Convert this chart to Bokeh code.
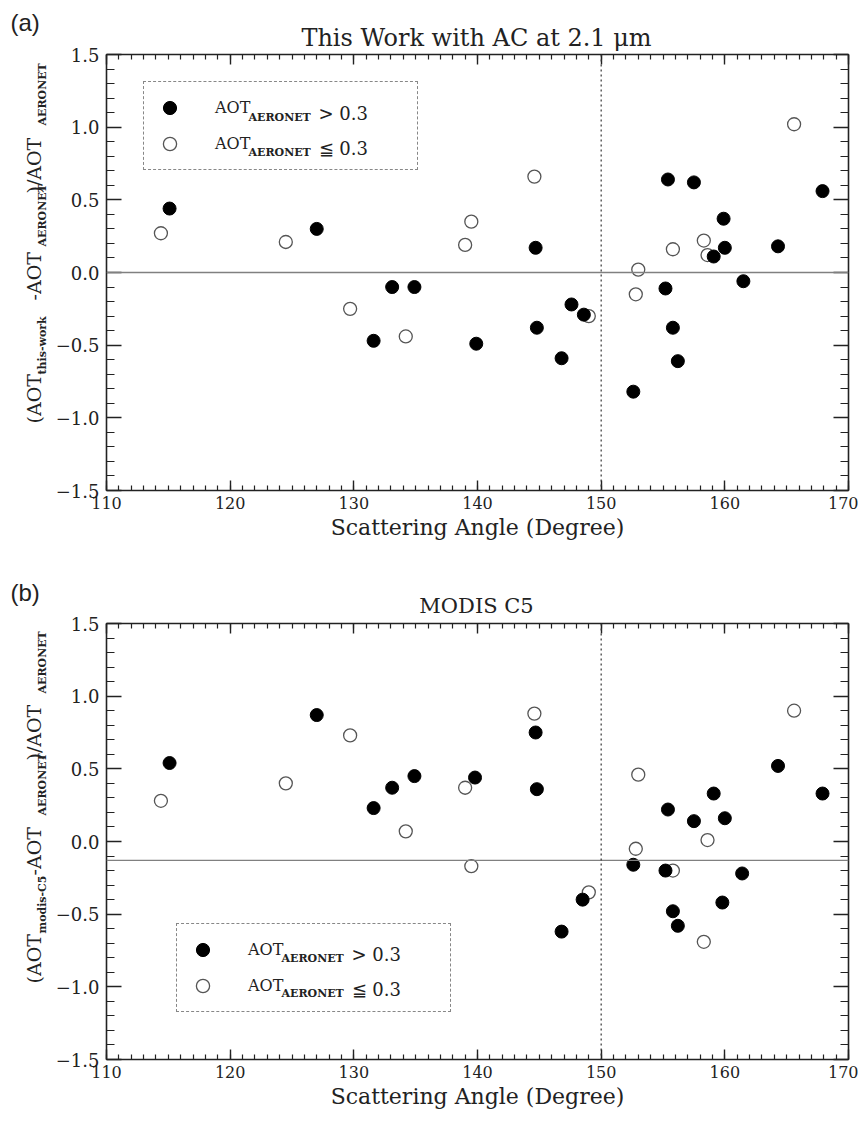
import numpy as np
from bokeh.plotting import figure
from bokeh.models import (Span, Label, Legend, LegendItem, LinearAxis,
                          SingleIntervalTicker, CustomJSTickFormatter, Range1d)
from bokeh.layouts import column, row
from bokeh.embed import file_html
from bokeh.resources import INLINE

# ---------------- data ----------------
top_filled_x = [115.1, 127.0, 131.6, 133.1, 134.9, 139.9, 144.7, 144.8, 146.8, 147.6, 148.6, 152.6,
                155.2, 155.4, 155.8, 156.2, 157.5, 159.1, 159.9, 160.0, 161.5, 164.3, 167.9]
top_filled_y = [0.44, 0.30, -0.47, -0.10, -0.10, -0.49, 0.17, -0.38, -0.59, -0.22, -0.29, -0.82,
                -0.11, 0.64, -0.38, -0.61, 0.62, 0.11, 0.37, 0.17, -0.06, 0.18, 0.56]
top_open_x = [114.4, 124.5, 129.7, 134.2, 139.0, 139.5, 144.6, 149.0, 152.8, 153.0, 155.8, 158.3, 158.6, 165.6]
top_open_y = [0.27, 0.21, -0.25, -0.44, 0.19, 0.35, 0.66, -0.30, -0.15, 0.02, 0.16, 0.22, 0.12, 1.02]

bot_filled_x = [115.1, 127.0, 131.6, 133.1, 134.9, 139.8, 144.7, 144.8, 146.8, 148.5, 152.6, 155.2,
                155.4, 155.8, 156.2, 157.5, 159.1, 159.8, 160.0, 161.4, 164.3, 167.9]
bot_filled_y = [0.54, 0.87, 0.23, 0.37, 0.45, 0.44, 0.75, 0.36, -0.62, -0.40, -0.16, -0.20,
                0.22, -0.48, -0.58, 0.14, 0.33, -0.42, 0.16, -0.22, 0.52, 0.33]
bot_open_x = [114.4, 124.5, 129.7, 134.2, 139.0, 139.5, 144.6, 149.0, 152.8, 153.0, 155.8, 158.3, 158.6, 165.6]
bot_open_y = [0.28, 0.40, 0.73, 0.07, 0.37, -0.17, 0.88, -0.35, -0.05, 0.46, -0.20, -0.69, 0.01, 0.90]

top_ref_line = 0.0
bot_ref_line = -0.13
angle_mark = 150
x_range = (110, 170)
y_range = (-1.5, 1.5)

titles = ["This Work with AC at 2.1 \u03bcm", "MODIS C5"]
panel_tags = ["(a)", "(b)"]
x_label = "Scattering Angle (Degree)"
legend_main = "AOT"
legend_sub = "AERONET"
legend_hi = "> 0.3"
legend_lo = "\u2266 0.3"

SERIF = "DejaVu Serif"
INK = "#222222"

fmt_y = CustomJSTickFormatter(code="return tick.toFixed(1).replace('-', '\u2212');")
fmt_x = CustomJSTickFormatter(code="return tick.toFixed(0);")
fmt_none = CustomJSTickFormatter(code="return '';")


def no_align(f):
    if "frame_align" in f.properties():
        f.frame_align = False


def style_axis(ax, is_x, labels=True):
    ax.axis_line_color = INK
    ax.axis_line_width = 1.6
    ax.major_tick_line_color = INK
    ax.minor_tick_line_color = INK
    ax.major_tick_line_width = 1.4
    ax.minor_tick_line_width = 1.2
    ax.major_tick_out = 0
    ax.minor_tick_out = 0
    if is_x:
        ax.major_tick_in = 10
        ax.minor_tick_in = 5
    else:
        ax.major_tick_in = 15
        ax.minor_tick_in = 8
    ax.major_label_text_font = SERIF
    ax.major_label_text_color = INK
    if not labels:
        ax.formatter = fmt_none
        ax.major_label_standoff = 0
        ax.major_label_text_font_size = "1px"


def make_main(fx, fy, ox, oy, ref, height, top_border, bottom_border, legend_loc,
              legend_text_pos, title, title_size, title_y):
    p = figure(width=806, height=height, output_backend="svg", toolbar_location=None,
               x_range=Range1d(*x_range), y_range=Range1d(*y_range),
               min_border_left=53, min_border_right=10, min_border_top=top_border,
               min_border_bottom=bottom_border,
               x_axis_type=None, y_axis_type=None)
    p.grid.visible = False
    p.outline_line_color = None
    p.background_fill_color = "white"
    p.border_fill_color = "white"
    no_align(p)

    xt = SingleIntervalTicker(interval=10, num_minor_ticks=10)
    yt = SingleIntervalTicker(interval=0.5, num_minor_ticks=5)

    xb = LinearAxis(ticker=xt, formatter=fmt_x, axis_label=x_label)
    style_axis(xb, True)
    xb.major_label_text_font_size = "16px"
    xb.major_label_standoff = 6
    xb.axis_label_text_font = SERIF
    xb.axis_label_text_font_style = "normal"
    xb.axis_label_text_font_size = "22px"
    xb.axis_label_text_color = INK
    xb.axis_label_standoff = 3
    p.add_layout(xb, "below")

    xa = LinearAxis(ticker=xt)
    style_axis(xa, True, labels=False)
    p.add_layout(xa, "above")

    yl = LinearAxis(ticker=yt, formatter=fmt_y)
    style_axis(yl, False)
    yl.major_label_text_font_size = "18px"
    yl.major_label_standoff = 7
    p.add_layout(yl, "left")

    yr = LinearAxis(ticker=yt)
    style_axis(yr, False, labels=False)
    p.add_layout(yr, "right")

    p.add_layout(Span(location=ref, dimension="width", line_color="#808080", line_width=1.3))
    p.add_layout(Span(location=angle_mark, dimension="height", line_color="#333333",
                      line_width=1.2, line_dash="2 3"))

    r_open = p.scatter(ox, oy, size=13, marker="circle", fill_color="white",
                       line_color="#555555", line_width=1.3)
    r_fill = p.scatter(fx, fy, size=13, marker="circle", fill_color="black",
                       line_color="black", line_width=1)

    leg = Legend(items=[LegendItem(label=legend_main, renderers=[r_fill]),
                        LegendItem(label=legend_main, renderers=[r_open])],
                 location=legend_loc, orientation="vertical",
                 padding=9, spacing=3, glyph_width=33, glyph_height=33,
                 label_standoff=29, label_width=193, label_height=20,
                 label_text_font=SERIF, label_text_font_size="16px",
                 label_text_color=INK,
                 border_line_color="#111111", border_line_width=1.6,
                 border_line_dash="11 7", background_fill_alpha=0,
                 margin=0)
    p.add_layout(leg)

    (sx0, gx0, b1, b2) = legend_text_pos
    for base, rel in ((b1, legend_hi), (b2, legend_lo)):
        p.add_layout(Label(x=sx0, y=base - 4, x_units="screen", y_units="screen", text=legend_sub,
                           text_font=SERIF, text_font_size="11px", text_font_style="bold",
                           text_color=INK, text_baseline="alphabetic"))
        p.add_layout(Label(x=gx0, y=base, x_units="screen", y_units="screen", text=rel,
                           text_font=SERIF, text_font_size="18px", text_color=INK,
                           text_baseline="alphabetic"))

    # title in the (unclipped) top panel, placed in canvas pixels
    p.add_layout(Label(x=424, y=title_y, x_units="canvas", y_units="canvas", text=title,
                       text_font=SERIF, text_font_size=title_size, text_color=INK,
                       text_align="center", text_baseline="alphabetic"), "above")
    return p


def make_side(height, tag, tag_y, segments):
    f = figure(width=52, height=height, output_backend="svg", toolbar_location=None,
               x_range=Range1d(0, 1), y_range=Range1d(0, 1),
               min_border=0, x_axis_type=None, y_axis_type=None)
    f.grid.visible = False
    f.outline_line_color = None
    f.background_fill_color = "white"
    f.border_fill_color = "white"
    no_align(f)
    f.add_layout(Label(x=10, y=tag_y, x_units="canvas", y_units="canvas", text=tag,
                       text_font="Liberation Sans", text_font_size="24px", text_color=INK,
                       text_baseline="alphabetic"))
    for txt, ypos, is_sub in segments:
        f.add_layout(Label(x=(42 if is_sub else 33), y=ypos, x_units="canvas", y_units="canvas",
                           text=txt, angle=np.pi / 2,
                           text_font=SERIF,
                           text_font_size=("11px" if is_sub else "19px"),
                           text_font_style=("bold" if is_sub else "normal"),
                           text_color=INK, text_baseline="alphabetic"))
    return f


# y-label pieces: (text, canvas y where the upward-running text starts, is subscript)
top_segments = [("(AOT", 423, False), ("this-work", 374, True), ("-AOT", 300, False),
                ("AERONET", 246, True), (")/AOT", 193, False), ("AERONET", 125, True)]
bot_segments = [("(AOT", 420, False), ("modis-C5", 370, True), ("-AOT", 312, False),
                ("AERONET", 252, True), (")/AOT", 197, False), ("AERONET", 130, True)]

s1 = make_side(563, panel_tags[0], 22, top_segments)
m1 = make_main(top_filled_x, top_filled_y, top_open_x, top_open_y, top_ref_line,
               563, 54, 73, (37, 320), (142, 212, 377, 342), titles[0], "24px", 37)

s2 = make_side(555, panel_tags[1], 29, bot_segments)
m2 = make_main(bot_filled_x, bot_filled_y, bot_open_x, bot_open_y, bot_ref_line,
               555, 60, 59, (70, 47), (175, 245, 105, 70), titles[1], "21px", 42)

layout = column(row(s1, m1, spacing=0), row(s2, m2, spacing=0), spacing=0)
open("out.html", "w").write(file_html(layout, INLINE))
